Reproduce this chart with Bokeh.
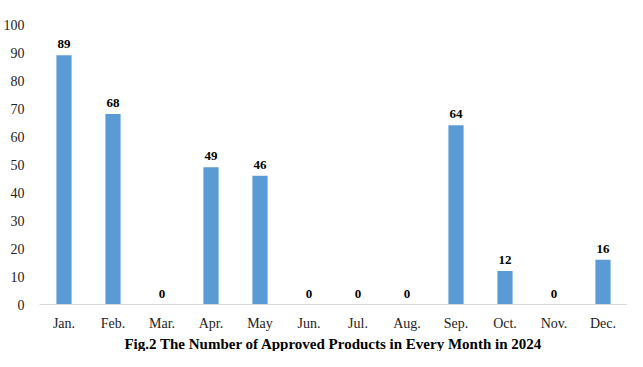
from bokeh.plotting import figure
from bokeh.models import ColumnDataSource, LabelSet, Title, Range1d, FixedTicker
from bokeh.embed import file_html
from bokeh.resources import INLINE

months = ["Jan.", "Feb.", "Mar.", "Apr.", "May", "Jun.", "Jul.", "Aug.", "Sep.", "Oct.", "Nov.", "Dec."]
approved = [89, 68, 0, 49, 46, 0, 0, 0, 64, 12, 0, 16]
y_ticks = [0, 10, 20, 30, 40, 50, 60, 70, 80, 90, 100]
title_text = "Fig.2 The Number of Approved Products in Every Month in 2024"

FONT = "Liberation Serif"

src = ColumnDataSource(dict(month=months, value=approved, label=[str(v) for v in approved]))

p = figure(x_range=months, width=627, height=351, output_backend="svg",
           toolbar_location=None, min_border_top=24, min_border_right=0,
           min_border_left=20, min_border_bottom=0, outline_line_color=None)
p.y_range = Range1d(0, 100)

p.vbar(x="month", top="value", width=0.31, source=src, color="#5B9BD5", line_color=None)

labels = LabelSet(x="month", y="value", text="label", source=src, text_align="center",
                  text_baseline="bottom", y_offset=7, text_font=FONT, text_font_size="13px",
                  text_font_style="bold", text_color="#000000")
p.add_layout(labels)

p.xgrid.grid_line_color = None
p.ygrid.grid_line_color = None

p.yaxis.ticker = FixedTicker(ticks=y_ticks)
p.yaxis.axis_line_color = None
p.yaxis.major_tick_line_color = None
p.yaxis.minor_tick_line_color = None
p.yaxis.major_label_standoff = 9
p.yaxis.major_label_text_font = FONT
p.yaxis.major_label_text_font_size = "14px"
p.yaxis.major_label_text_color = "#222222"

p.xaxis.axis_line_color = "#D9D9D9"
p.xaxis.axis_line_width = 1
p.xaxis.major_tick_line_color = None
p.xaxis.minor_tick_line_color = None
p.xaxis.major_label_standoff = 5
p.xaxis.major_label_text_font = FONT
p.xaxis.major_label_text_font_size = "14px"
p.xaxis.major_label_text_color = "#222222"

t = Title(text=title_text, align="center", text_font=FONT, text_font_size="15px",
          text_font_style="bold", text_color="#000000", standoff=0)
p.add_layout(t, "below")

open("out.html", "w").write(file_html(p, INLINE))
